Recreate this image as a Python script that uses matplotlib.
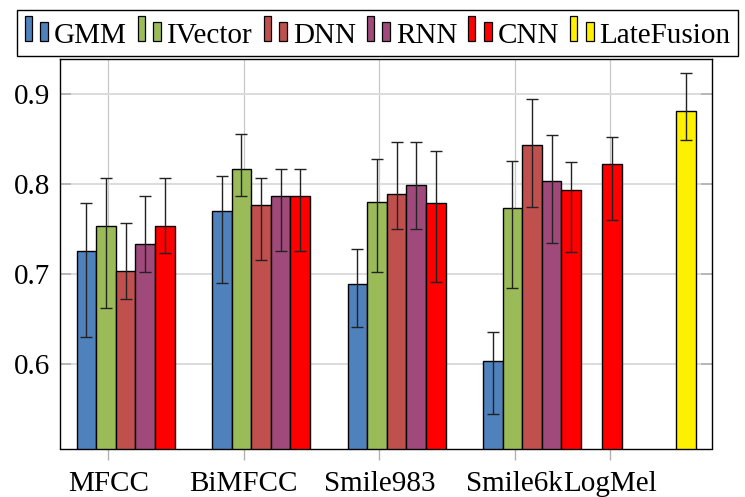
import matplotlib
matplotlib.use("Agg")
import matplotlib.pyplot as plt
from matplotlib.patches import Rectangle
from matplotlib.legend_handler import HandlerBase

# -----------------------------
# DATA
# -----------------------------
features = ["MFCC", "BiMFCC", "Smile983", "Smile6k", "LogMel"]
models = ["GMM", "IVector", "DNN", "RNN", "CNN"]

# mean value per feature set (None = no bar)
gmm     = [0.725, 0.770, 0.689, 0.603, None]
ivector = [0.753, 0.817, 0.780, 0.773, None]
dnn     = [0.703, 0.777, 0.789, 0.843, None]
rnn     = [0.733, 0.787, 0.799, 0.803, None]
cnn     = [0.753, 0.787, 0.779, 0.793, 0.822]

# error bar ends (upper / lower)
gmm_hi     = [0.779, 0.809, 0.727, 0.635, None]
gmm_lo     = [0.630, 0.690, 0.641, 0.544, None]
ivector_hi = [0.806, 0.856, 0.828, 0.825, None]
ivector_lo = [0.662, 0.786, 0.702, 0.684, None]
dnn_hi     = [0.756, 0.806, 0.847, 0.894, None]
dnn_lo     = [0.672, 0.715, 0.750, 0.774, None]
rnn_hi     = [0.786, 0.816, 0.847, 0.854, None]
rnn_lo     = [0.702, 0.725, 0.750, 0.734, None]
cnn_hi     = [0.806, 0.816, 0.837, 0.824, 0.852]
cnn_lo     = [0.723, 0.725, 0.691, 0.724, 0.760]

fusion_label = "LateFusion"
fusion = 0.881
fusion_hi = 0.923
fusion_lo = 0.849

yticks = [0.6, 0.7, 0.8, 0.9]

# -----------------------------
# LAYOUT
# -----------------------------
tick_pos = [0.0, 1.0, 2.0, 3.0, 3.7]
W = 0.1447
offsets = [(i - 1.12) * W for i in range(5)]
logmel_cnn_offset = 0.13 * W
fusion_offset = 3.9 * W

colors = {"GMM": "#4F81BD", "IVector": "#9BBB59", "DNN": "#C0504D",
          "RNN": "#9F4A7B", "CNN": "#FF0000", "LateFusion": "#FFF000"}

plt.rcParams["font.family"] = ["Liberation Serif", "DejaVu Serif"]
FS = 21

fig = plt.figure(figsize=(7.45, 4.97), dpi=100)
ax = fig.add_axes([60.3 / 745, 1 - 448.5 / 497, (711.7 - 60.3) / 745, (448.5 - 59) / 497])

series = [gmm, ivector, dnn, rnn, cnn]
his = [gmm_hi, ivector_hi, dnn_hi, rnn_hi, cnn_hi]
los = [gmm_lo, ivector_lo, dnn_lo, rnn_lo, cnn_lo]

for i, name in enumerate(models):
    xs, vs, lo_err, hi_err = [], [], [], []
    for j, v in enumerate(series[i]):
        if v is None:
            continue
        off = offsets[i]
        if features[j] == "LogMel":
            off = logmel_cnn_offset
        xs.append(tick_pos[j] + off)
        vs.append(v)
        lo_err.append(v - los[i][j])
        hi_err.append(his[i][j] - v)
    ax.bar(xs, vs, width=W, color=colors[name], edgecolor="black",
           linewidth=1.0, zorder=2)
    ax.errorbar(xs, vs, yerr=[lo_err, hi_err], fmt="none", ecolor="#222222",
                elinewidth=1.0, capsize=4, capthick=1.0, zorder=3)

fx = tick_pos[4] + fusion_offset
ax.bar([fx], [fusion], width=W, color=colors[fusion_label], edgecolor="black",
       linewidth=1.0, zorder=2)
ax.errorbar([fx], [fusion], yerr=[[fusion - fusion_lo], [fusion_hi - fusion]],
            fmt="none", ecolor="#222222", elinewidth=1.0, capsize=4,
            capthick=1.0, zorder=3)

ax.set_xlim((60.3 - 108.3) / 135.5, (711.7 - 108.3) / 135.5)
ax.set_ylim(0.5056, 0.9389)
ax.set_xticks(tick_pos)
ax.set_xticklabels(features, fontsize=FS)
ax.set_yticks(yticks)
ax.set_yticklabels([str(t) for t in yticks], fontsize=FS)

ax.set_axisbelow(True)
ax.yaxis.grid(True, color="#d9d9d9", linewidth=1.3)
ax.xaxis.grid(True, color="#c8c8c8", linewidth=0.9)
ax.tick_params(axis="y", direction="in", length=8, width=1.2, color="#b0b0b0",
               right=True, pad=7)
ax.tick_params(axis="x", direction="out", length=8, width=1.0, color="#b0b0b0",
               pad=8)
for s in ax.spines.values():
    s.set_linewidth(1.0)
    s.set_color("black")


# legend marker: two little bars like pgfplots ybar legend
class TwoBars(HandlerBase):
    def create_artists(self, legend, orig_handle, xdescent, ydescent,
                       width, height, fontsize, trans):
        fc = orig_handle.get_facecolor()
        x0 = -xdescent
        y0 = 1
        r1 = Rectangle((x0, y0), 0.3 * width, 0.86 * fontsize, facecolor=fc,
                       edgecolor="black", linewidth=0.9, transform=trans)
        r2 = Rectangle((x0 + 0.66 * width, y0), 0.34 * width, 0.66 * fontsize,
                       facecolor=fc, edgecolor="black", linewidth=0.9,
                       transform=trans)
        return [r1, r2]


labels = models + [fusion_label]
handles = [Rectangle((0, 0), 1, 1, facecolor=colors[n]) for n in labels]
leg = fig.legend(handles, labels, loc="upper left",
                 bbox_to_anchor=(17.3 / 745, 1 - 10.3 / 497),
                 ncol=6, fontsize=FS, frameon=True, fancybox=False,
                 edgecolor="black", borderpad=0.25, handlelength=0.8,
                 handleheight=1.25, handletextpad=0.2, columnspacing=0.38,
                 borderaxespad=0, handler_map={Rectangle: TwoBars()})
leg.get_frame().set_linewidth(1.0)
leg.get_frame().set_alpha(1)

fig.savefig("out.png", dpi=100)
